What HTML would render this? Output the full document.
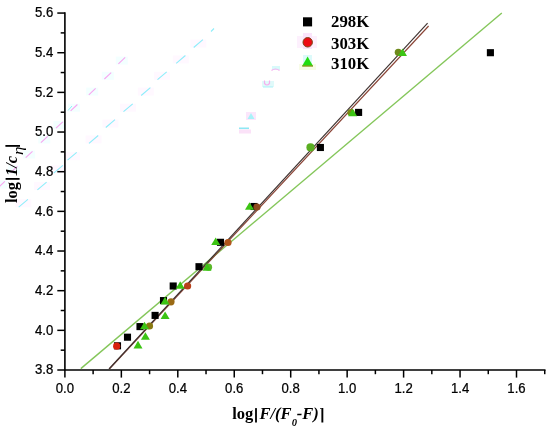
<!DOCTYPE html>
<html><head><meta charset="utf-8"><style>
html,body{margin:0;padding:0;background:#fff;}
body{width:550px;height:429px;overflow:hidden;}
svg{display:block;will-change:transform;}
.tl{font-family:"Liberation Sans",sans-serif;font-size:14.0px;fill:#000;stroke:#000;stroke-width:0.25px;}
.lg{font-family:"Liberation Serif",serif;font-weight:bold;font-size:16.8px;fill:#000;}
.eta{font-family:"Liberation Serif",serif;font-style:italic;font-size:14px;fill:#000;}
.al{font-family:"Liberation Serif",serif;font-weight:bold;font-size:16.5px;fill:#000;}
</style></head><body>
<svg width="550" height="429" viewBox="0 0 550 429">
<rect x="15.3" y="199.3" width="16" height="8" fill="#fff8ff"/>
<line x1="18.7" y1="207.2" x2="27.9" y2="199.4" stroke="#8eeefa" stroke-width="1.1"/>
<rect x="34.0" y="182.0" width="16" height="8" fill="#fff8ff"/>
<line x1="37.4" y1="189.9" x2="46.6" y2="182.1" stroke="#8eeefa" stroke-width="1.1"/>
<rect x="50.3" y="165.3" width="16" height="8" fill="#fff8ff"/>
<line x1="53.7" y1="173.2" x2="62.9" y2="165.4" stroke="#8eeefa" stroke-width="1.1"/>
<rect x="64.1" y="152.2" width="16" height="8" fill="#fff8ff"/>
<line x1="67.5" y1="160.1" x2="76.7" y2="152.3" stroke="#8eeefa" stroke-width="1.1"/>
<rect x="85.6" y="135.4" width="16" height="8" fill="#fff8ff"/>
<line x1="89.0" y1="143.3" x2="98.2" y2="135.5" stroke="#8eeefa" stroke-width="1.1"/>
<rect x="102.4" y="119.6" width="16" height="8" fill="#fff8ff"/>
<line x1="105.8" y1="127.5" x2="115.0" y2="119.7" stroke="#8eeefa" stroke-width="1.1"/>
<rect x="120.1" y="103.7" width="16" height="8" fill="#fff8ff"/>
<line x1="123.5" y1="111.6" x2="132.7" y2="103.8" stroke="#8eeefa" stroke-width="1.1"/>
<rect x="137.8" y="87.6" width="16" height="8" fill="#fff8ff"/>
<line x1="141.2" y1="95.5" x2="150.4" y2="87.7" stroke="#8eeefa" stroke-width="1.1"/>
<rect x="154.1" y="71.8" width="16" height="8" fill="#fff8ff"/>
<line x1="157.5" y1="79.7" x2="166.7" y2="71.9" stroke="#8eeefa" stroke-width="1.1"/>
<rect x="172.8" y="55.4" width="16" height="8" fill="#fff8ff"/>
<line x1="176.2" y1="63.3" x2="185.4" y2="55.5" stroke="#8eeefa" stroke-width="1.1"/>
<rect x="190.3" y="39.6" width="16" height="8" fill="#fff8ff"/>
<line x1="193.7" y1="47.5" x2="202.9" y2="39.7" stroke="#8eeefa" stroke-width="1.1"/>
<line x1="211" y1="31.5" x2="214" y2="28.5" stroke="#8eeefa" stroke-width="1.1"/>
<rect x="-4.5" y="180.5" width="12" height="8" fill="#f3ffff"/>
<line x1="-1.9" y1="187.7" x2="4.9" y2="181.3" stroke="#f7a6f0" stroke-width="1.1"/>
<rect x="8.0" y="165.5" width="12" height="8" fill="#f3ffff"/>
<line x1="10.6" y1="172.7" x2="17.4" y2="166.3" stroke="#f7a6f0" stroke-width="1.1"/>
<rect x="23.1" y="150.5" width="12" height="8" fill="#f3ffff"/>
<line x1="25.7" y1="157.7" x2="32.5" y2="151.3" stroke="#f7a6f0" stroke-width="1.1"/>
<rect x="38.3" y="135.5" width="12" height="8" fill="#f3ffff"/>
<line x1="40.9" y1="142.7" x2="47.7" y2="136.3" stroke="#f7a6f0" stroke-width="1.1"/>
<rect x="53.4" y="121.0" width="12" height="8" fill="#f3ffff"/>
<line x1="56.0" y1="128.2" x2="62.8" y2="121.8" stroke="#f7a6f0" stroke-width="1.1"/>
<rect x="68.0" y="103.7" width="12" height="8" fill="#f3ffff"/>
<line x1="70.6" y1="110.9" x2="77.4" y2="104.5" stroke="#f7a6f0" stroke-width="1.1"/>
<rect x="86.2" y="87.6" width="12" height="8" fill="#f3ffff"/>
<line x1="88.8" y1="94.8" x2="95.6" y2="88.4" stroke="#f7a6f0" stroke-width="1.1"/>
<rect x="101.8" y="71.8" width="12" height="8" fill="#f3ffff"/>
<line x1="104.4" y1="79.0" x2="111.2" y2="72.6" stroke="#f7a6f0" stroke-width="1.1"/>
<rect x="115.8" y="56.6" width="12" height="8" fill="#f3ffff"/>
<line x1="118.4" y1="63.8" x2="125.2" y2="57.4" stroke="#f7a6f0" stroke-width="1.1"/>
<line x1="68" y1="110.5" x2="72" y2="106" stroke="#8eeefa" stroke-width="1"/>
<path d="M272 66h8v4h-8z" fill="#d8fafa"/><path d="M271.5 70.5q4 -3 8 0" stroke="#f7b0f0" stroke-width="1.2" fill="none"/>
<path d="M262 81h12v6h-12z" fill="#e0fafa"/><path d="M264.5 80.5v3q2.5 3 5 0v-3" stroke="#f5b0ee" stroke-width="1.2" fill="none"/><line x1="263" y1="87" x2="273" y2="87" stroke="#9aeef8" stroke-width="0.8"/>
<path d="M246 112h10v8h-10z" fill="#fbe6fb"/><path d="M251 113l3.5 6h-7z" fill="#a8f2f8"/>
<rect x="239" y="127.5" width="10" height="1.6" fill="#8ee8f4"/><rect x="239" y="129.5" width="12" height="4" fill="#fbe2f8"/>
<path d="M64.90 13.06 V370.00 H544.73" fill="none" stroke="#000" stroke-width="1.6" stroke-linecap="square"/>
<line x1="57.30" y1="370.00" x2="64.90" y2="370.00" stroke="#000" stroke-width="1.5"/>
<text transform="translate(53.3,374.30) scale(0.94,1)" class="tl" text-anchor="end">3.8</text>
<line x1="60.70" y1="350.17" x2="64.90" y2="350.17" stroke="#000" stroke-width="1.5"/>
<line x1="57.30" y1="330.34" x2="64.90" y2="330.34" stroke="#000" stroke-width="1.5"/>
<text transform="translate(53.3,334.64) scale(0.94,1)" class="tl" text-anchor="end">4.0</text>
<line x1="60.70" y1="310.51" x2="64.90" y2="310.51" stroke="#000" stroke-width="1.5"/>
<line x1="57.30" y1="290.68" x2="64.90" y2="290.68" stroke="#000" stroke-width="1.5"/>
<text transform="translate(53.3,294.98) scale(0.94,1)" class="tl" text-anchor="end">4.2</text>
<line x1="60.70" y1="270.85" x2="64.90" y2="270.85" stroke="#000" stroke-width="1.5"/>
<line x1="57.30" y1="251.02" x2="64.90" y2="251.02" stroke="#000" stroke-width="1.5"/>
<text transform="translate(53.3,255.32) scale(0.94,1)" class="tl" text-anchor="end">4.4</text>
<line x1="60.70" y1="231.19" x2="64.90" y2="231.19" stroke="#000" stroke-width="1.5"/>
<line x1="57.30" y1="211.36" x2="64.90" y2="211.36" stroke="#000" stroke-width="1.5"/>
<text transform="translate(53.3,215.66) scale(0.94,1)" class="tl" text-anchor="end">4.6</text>
<line x1="60.70" y1="191.53" x2="64.90" y2="191.53" stroke="#000" stroke-width="1.5"/>
<line x1="57.30" y1="171.70" x2="64.90" y2="171.70" stroke="#000" stroke-width="1.5"/>
<text transform="translate(53.3,176.00) scale(0.94,1)" class="tl" text-anchor="end">4.8</text>
<line x1="60.70" y1="151.87" x2="64.90" y2="151.87" stroke="#000" stroke-width="1.5"/>
<line x1="57.30" y1="132.04" x2="64.90" y2="132.04" stroke="#000" stroke-width="1.5"/>
<text transform="translate(53.3,136.34) scale(0.94,1)" class="tl" text-anchor="end">5.0</text>
<line x1="60.70" y1="112.21" x2="64.90" y2="112.21" stroke="#000" stroke-width="1.5"/>
<line x1="57.30" y1="92.38" x2="64.90" y2="92.38" stroke="#000" stroke-width="1.5"/>
<text transform="translate(53.3,96.68) scale(0.94,1)" class="tl" text-anchor="end">5.2</text>
<line x1="60.70" y1="72.55" x2="64.90" y2="72.55" stroke="#000" stroke-width="1.5"/>
<line x1="57.30" y1="52.72" x2="64.90" y2="52.72" stroke="#000" stroke-width="1.5"/>
<text transform="translate(53.3,57.02) scale(0.94,1)" class="tl" text-anchor="end">5.4</text>
<line x1="60.70" y1="32.89" x2="64.90" y2="32.89" stroke="#000" stroke-width="1.5"/>
<line x1="57.30" y1="13.06" x2="64.90" y2="13.06" stroke="#000" stroke-width="1.5"/>
<text transform="translate(53.3,17.36) scale(0.94,1)" class="tl" text-anchor="end">5.6</text>
<line x1="64.90" y1="370.00" x2="64.90" y2="377.60" stroke="#000" stroke-width="1.5"/>
<text transform="translate(64.90,392.5) scale(0.94,1)" class="tl" text-anchor="middle">0.0</text>
<line x1="93.12" y1="370.00" x2="93.12" y2="374.20" stroke="#000" stroke-width="1.5"/>
<line x1="121.35" y1="370.00" x2="121.35" y2="377.60" stroke="#000" stroke-width="1.5"/>
<text transform="translate(121.35,392.5) scale(0.94,1)" class="tl" text-anchor="middle">0.2</text>
<line x1="149.58" y1="370.00" x2="149.58" y2="374.20" stroke="#000" stroke-width="1.5"/>
<line x1="177.80" y1="370.00" x2="177.80" y2="377.60" stroke="#000" stroke-width="1.5"/>
<text transform="translate(177.80,392.5) scale(0.94,1)" class="tl" text-anchor="middle">0.4</text>
<line x1="206.03" y1="370.00" x2="206.03" y2="374.20" stroke="#000" stroke-width="1.5"/>
<line x1="234.25" y1="370.00" x2="234.25" y2="377.60" stroke="#000" stroke-width="1.5"/>
<text transform="translate(234.25,392.5) scale(0.94,1)" class="tl" text-anchor="middle">0.6</text>
<line x1="262.48" y1="370.00" x2="262.48" y2="374.20" stroke="#000" stroke-width="1.5"/>
<line x1="290.70" y1="370.00" x2="290.70" y2="377.60" stroke="#000" stroke-width="1.5"/>
<text transform="translate(290.70,392.5) scale(0.94,1)" class="tl" text-anchor="middle">0.8</text>
<line x1="318.93" y1="370.00" x2="318.93" y2="374.20" stroke="#000" stroke-width="1.5"/>
<line x1="347.15" y1="370.00" x2="347.15" y2="377.60" stroke="#000" stroke-width="1.5"/>
<text transform="translate(347.15,392.5) scale(0.94,1)" class="tl" text-anchor="middle">1.0</text>
<line x1="375.38" y1="370.00" x2="375.38" y2="374.20" stroke="#000" stroke-width="1.5"/>
<line x1="403.60" y1="370.00" x2="403.60" y2="377.60" stroke="#000" stroke-width="1.5"/>
<text transform="translate(403.60,392.5) scale(0.94,1)" class="tl" text-anchor="middle">1.2</text>
<line x1="431.83" y1="370.00" x2="431.83" y2="374.20" stroke="#000" stroke-width="1.5"/>
<line x1="460.05" y1="370.00" x2="460.05" y2="377.60" stroke="#000" stroke-width="1.5"/>
<text transform="translate(460.05,392.5) scale(0.94,1)" class="tl" text-anchor="middle">1.4</text>
<line x1="488.27" y1="370.00" x2="488.27" y2="374.20" stroke="#000" stroke-width="1.5"/>
<line x1="516.50" y1="370.00" x2="516.50" y2="377.60" stroke="#000" stroke-width="1.5"/>
<text transform="translate(516.50,392.5) scale(0.94,1)" class="tl" text-anchor="middle">1.6</text>
<line x1="544.73" y1="370.00" x2="544.73" y2="374.20" stroke="#000" stroke-width="1.5"/>
<line x1="80.8" y1="368.6" x2="501.8" y2="13" stroke="#84c65a" stroke-width="1.4"/>
<line x1="109.3" y1="369" x2="428.6" y2="26.0" stroke="#8a4436" stroke-width="1.15"/>
<line x1="109.0" y1="369" x2="427.6" y2="23.2" stroke="#3e3230" stroke-width="1.15"/>
<rect x="113.95" y="342.25" width="7.1" height="7.1" fill="#000"/>
<rect x="123.95" y="333.65" width="7.1" height="7.1" fill="#000"/>
<rect x="136.45" y="323.05" width="7.1" height="7.1" fill="#000"/>
<rect x="151.55" y="311.85" width="7.1" height="7.1" fill="#000"/>
<rect x="159.95" y="297.05" width="7.1" height="7.1" fill="#000"/>
<rect x="169.65" y="282.45" width="7.1" height="7.1" fill="#000"/>
<rect x="195.45" y="263.15" width="7.1" height="7.1" fill="#000"/>
<rect x="216.95" y="238.75" width="7.1" height="7.1" fill="#000"/>
<rect x="250.45" y="202.95" width="7.1" height="7.1" fill="#000"/>
<rect x="316.85" y="143.95" width="7.1" height="7.1" fill="#000"/>
<rect x="355.05" y="108.85" width="7.1" height="7.1" fill="#000"/>
<rect x="486.85" y="49.15" width="7.1" height="7.1" fill="#000"/>
<circle cx="116.7" cy="346.2" r="3.6" fill="#d8200c"/>
<circle cx="149.5" cy="326.0" r="3.6" fill="#8a7a12"/>
<circle cx="171.0" cy="301.8" r="3.6" fill="#9a6a14"/>
<circle cx="187.6" cy="286.0" r="3.6" fill="#b8401a"/>
<circle cx="208.5" cy="267.2" r="3.6" fill="#5cb82a"/>
<circle cx="228.0" cy="242.5" r="3.6" fill="#b0561c"/>
<circle cx="257.0" cy="207.0" r="3.6" fill="#8e4a1c"/>
<circle cx="310.5" cy="147.4" r="4.1" fill="#5aae22"/>
<circle cx="351.0" cy="112.5" r="3.6" fill="#7a8a14"/>
<circle cx="398.3" cy="52.3" r="3.6" fill="#6e8a1c"/>
<path d="M138.00 340.80 L142.50 348.40 L133.50 348.40 Z" fill="#3cc414"/>
<path d="M145.40 332.20 L149.90 339.80 L140.90 339.80 Z" fill="#3cc414"/>
<path d="M144.50 321.70 L149.00 329.30 L140.00 329.30 Z" fill="#3cc414"/>
<path d="M165.10 311.40 L169.60 319.00 L160.60 319.00 Z" fill="#3cc414"/>
<path d="M165.00 296.80 L169.50 304.40 L160.50 304.40 Z" fill="#3cc414"/>
<path d="M180.20 281.20 L184.70 288.80 L175.70 288.80 Z" fill="#3cc414"/>
<path d="M207.00 263.20 L211.50 270.80 L202.50 270.80 Z" fill="#3cc414"/>
<path d="M215.70 237.50 L220.20 245.10 L211.20 245.10 Z" fill="#3cc414"/>
<path d="M249.50 202.20 L254.00 209.80 L245.00 209.80 Z" fill="#3cc414"/>
<path d="M352.60 108.70 L357.10 116.30 L348.10 116.30 Z" fill="#3cc414"/>
<path d="M402.50 48.50 L407.00 56.10 L398.00 56.10 Z" fill="#3cc414"/>
<rect x="297" y="36" width="20" height="12" fill="#fdf0fd"/><rect x="303" y="33" width="9" height="16" fill="#fbe4fb"/>
<rect x="303" y="55" width="9" height="9" fill="#dcfafa"/><rect x="299" y="64" width="17" height="6" fill="#f8fce8"/>
<rect x="303" y="17.3" width="9.1" height="9.1" fill="#000"/>
<circle cx="307.7" cy="42.3" r="4.7" fill="#ee0a14" stroke="#7a4414" stroke-width="1.0"/>
<path d="M307.6 56.6 L313.0 66.0 L302.2 66.0 Z" fill="#22dd11"/><line x1="302.2" y1="66" x2="313" y2="66" stroke="#8a9a20" stroke-width="1.4"/>
<text transform="translate(331,27.4) scale(1.0,1)" class="lg">298K</text>
<text transform="translate(331,48.6) scale(1.0,1)" class="lg">303K</text>
<text transform="translate(331,69.0) scale(1.0,1)" class="lg">310K</text>
<text x="232.2" y="419.4" class="al">log<tspan dx="6.2" font-style="italic">F/(F</tspan><tspan font-style="italic" font-size="10.6" dy="6.1" dx="0.2">0</tspan><tspan font-style="italic" dy="-6.1" dx="-0.4">-F)</tspan></text>
<rect x="255.1" y="408.1" width="1.8" height="14.4" fill="#000"/>
<rect x="321.4" y="408.0" width="1.9" height="14.5" fill="#000"/><rect x="320.3" y="408.0" width="1.2" height="1.0" fill="#000"/>
<g transform="translate(17.2,203) rotate(-90)"><text x="0" y="0" class="al">log<tspan dx="5.9" font-style="italic">1/c</tspan></text><text transform="translate(47.9,5.8) scale(1.22,1)" class="eta">η</text></g>
<rect x="5.6" y="178.0" width="14.0" height="1.8" fill="#000"/>
<rect x="5.4" y="145.0" width="14.6" height="1.8" fill="#000"/>
</svg>
</body></html>
